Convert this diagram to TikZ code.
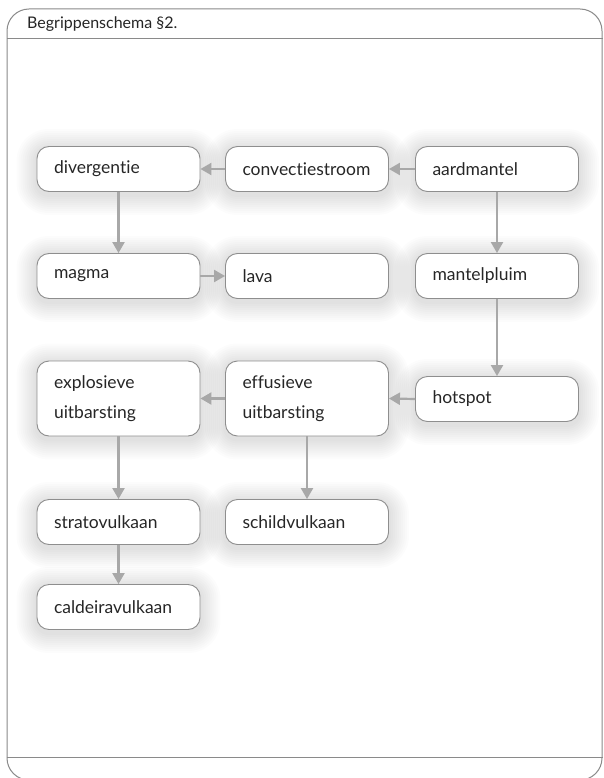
\documentclass[tikz,border=0pt]{standalone}
\usepackage{fontspec}
\setmainfont{Lato}[Ligatures={NoCommon,NoContextual}]
\usetikzlibrary{arrows.meta,calc,backgrounds}
\definecolor{boxline}{HTML}{8E8E8E}
\definecolor{arrowc}{HTML}{A8A8A8}
\definecolor{framec}{HTML}{8A8A8A}
\tikzset{
  concept/.style={draw=boxline, line width=0.9pt, fill=white, rounded corners=12pt,
    minimum width=163pt, minimum height=45pt, text width=129pt, align=left,
    inner xsep=17pt, font=\fontsize{17.5}{30}\selectfont, text=black!85},
  tall/.style={minimum height=75pt},
  link/.style={draw=arrowc, line width=2.2pt, -{Triangle[length=11pt,width=12pt]}},
  framel/.style={draw=framec, line width=1pt},
  halo/.style={fill=black, fill opacity=0.01}
}
\begin{document}
\begin{tikzpicture}[x=1pt,y=-1pt]
\useasboundingbox (0,0) rectangle (603,778);
\node[anchor=base west, inner sep=0pt, font=\fontsize{16}{18}\selectfont, text=black!85] (title) at (27,29) {Begrippenschema §2.};

\node[concept] (div) at (118.5,169) {divergentie};
\node[concept] (conv) at (307,169) {convectiestroom};
\node[concept] (aard) at (497,169) {aardmantel};
\node[concept] (magma) at (118.5,276) {magma};
\node[concept] (lava) at (307,276) {lava};
\node[concept] (pluim) at (497,276) {mantelpluim};
\node[concept, tall] (expl) at (118.5,398.5) {explosieve\\uitbarsting};
\node[concept, tall] (effu) at (307,398.5) {effusieve\\uitbarsting};
\node[concept] (hot) at (497,399) {hotspot};
\node[concept] (strato) at (118.5,522) {stratovulkaan};
\node[concept] (schild) at (307,522) {schildvulkaan};
\node[concept] (cald) at (118.5,607) {caldeiravulkaan};

\begin{scope}[on background layer]
\fill[white] (0,0) rectangle (603,778);
\foreach \n in {div,conv,aard,magma,lava,pluim,expl,effu,hot,strato,schild,cald}{
  \foreach \d in {2,4,...,20}{
    \fill[halo, rounded corners=12pt+\d pt]
      ($(\n.south west)+(-\d,\d+3)$) rectangle ($(\n.north east)+(\d,-\d+3)$);
  }
}
\begin{scope}
\clip (0,0) rectangle (603,778);
\draw[framel, rounded corners=22pt] (7,757) -- (7,9) -- (602,9) -- (602,757);
\draw[framel] (7,39) -- (603,39);
\draw[framel] (7,757) -- (603,757);
\draw[framel, rounded corners=22pt] (7,757) -- (7,780) -- (60,780);
\draw[framel, rounded corners=22pt] (602,757) -- (602,780) -- (540,780);
\end{scope}
\end{scope}

\draw[link] (conv.west) -- (div.east);
\draw[link] (aard.west) -- (conv.east);
\draw[link] (div.south) -- (magma.north);
\draw[link] (aard.south) -- (pluim.north);
\draw[link] (magma.east) -- (lava.west);
\draw[link] (pluim.south) -- (hot.north);
\draw[link] (hot.west) -- (effu.east);
\draw[link] (effu.west) -- (expl.east);
\draw[link] (expl.south) -- (strato.north);
\draw[link] (effu.south) -- (schild.north);
\draw[link] (strato.south) -- (cald.north);
\end{tikzpicture}
\end{document}
